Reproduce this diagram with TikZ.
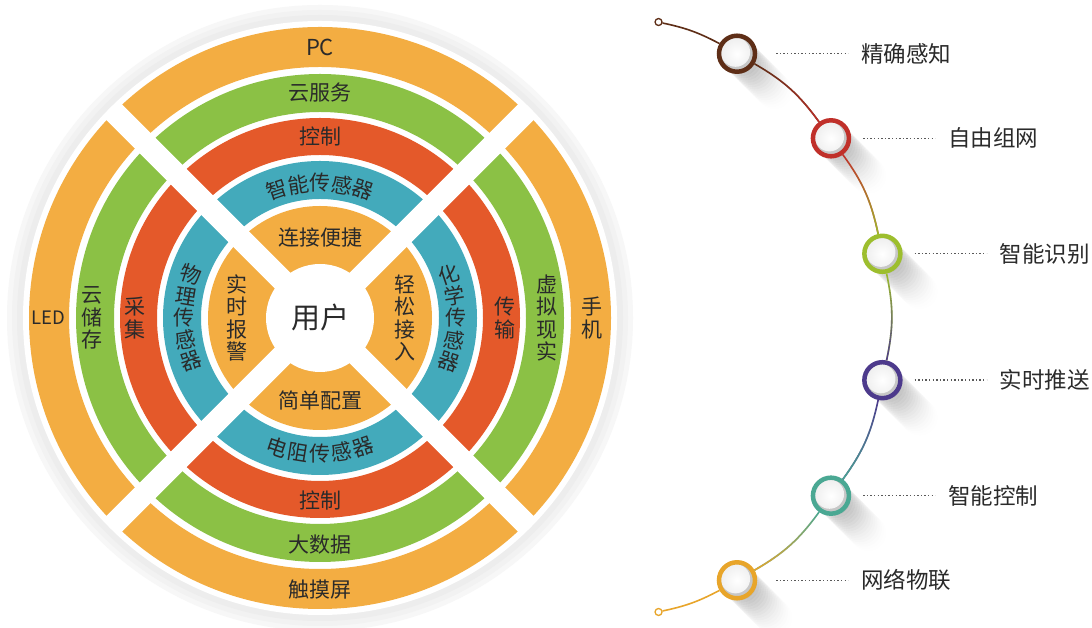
\documentclass[tikz,border=0pt]{standalone}
\usepackage{fontspec}
\usetikzlibrary{positioning,fadings}
\newfontfamily\cjk{Noto Sans CJK SC}
\definecolor{ringorange}{HTML}{F3AD42}
\definecolor{ringgreen}{HTML}{8BC145}
\definecolor{ringred}{HTML}{E4592A}
\definecolor{ringteal}{HTML}{43AABB}
\definecolor{inkgray}{HTML}{2A2A2A}
\definecolor{dotbrown}{HTML}{5E2E17}
\definecolor{dotred}{HTML}{C0302A}
\definecolor{dotlime}{HTML}{9DBE2E}
\definecolor{dotpurple}{HTML}{4D3A8C}
\definecolor{dotteal}{HTML}{4AA893}
\definecolor{dotamber}{HTML}{E8A52A}
\tikzfading[name=fade in down, top color=transparent!100, bottom color=transparent!0]
\tikzset{
  ringtext/.style={font=\cjk\fontsize{21}{22.5}\selectfont, text=inkgray, inner sep=0pt, align=center},
  usertext/.style={font=\cjk\fontsize{29}{32}\selectfont, text=inkgray, inner sep=0pt},
  tagtext/.style={font=\cjk\fontsize{22.5}{24}\selectfont, text=inkgray, inner sep=0pt},
  stage/.style={circle, minimum size=36pt, inner sep=0pt, line width=4.5pt, fill=black!22,
    path picture={\shade[inner color=white, outer color=black!7]
      ([shift={(-1.5pt,1.5pt)}]path picture bounding box.center) circle (14.6pt);}},
  endring/.style={circle, minimum size=7pt, inner sep=0pt, line width=1.3pt, fill=white},
  conn/.style={line width=1.6pt},
  leader/.style={line width=1.4pt, black!65, dash pattern=on 1.4pt off 2.2pt},
}
\begin{document}
\begin{tikzpicture}[x=1pt, y=1pt]
  \useasboundingbox (0,0) rectangle (1092,628);
  \fill[white] (0,0) rectangle (1092,628);
  % rings
  \begin{scope}[shift={(320,310)}]
    \fill[black!3] (0,0) circle (313);
    \fill[black!5] (0,0) circle (308);
    \fill[black!7] (0,0) circle (303);
    \fill[white] (0,0) circle (297);
    \foreach \r/\w/\col in {271/40/ringorange, 225/38/ringgreen, 181.5/37/ringred, 138/38/ringteal} {
      \draw[\col, line width=\w pt] (0,0) circle (\r);
    }
    \fill[ringorange] (0,0) circle (112);
    \foreach \a in {45, 135} {
      \draw[white, line width=22pt] (\a:296) -- (\a+180:296);
    }
    \fill[white] (0,0) circle (54);

    \node[ringtext, font=\cjk\fontsize{22}{24}\selectfont] (pc) at (90:271) {PC};
    \node[ringtext] (cloudsrv) at (90:225) {云服务};
    \node[ringtext] (ctrltop) at (90:181.5) {控制};
    \node[ringtext] (easy) at (90:80) {连接便捷};
    \node[ringtext] (config) at (270:82) {简单配置};
    \node[ringtext] (ctrlbot) at (270:183) {控制};
    \node[ringtext] (bigdata) at (270:227) {大数据};
    \node[ringtext] (touch) at (270:272) {触摸屏};
    \node[ringtext] (phone) at (0:272) {手\\机};
    \node[ringtext] (vr) at (0:227) {虚\\拟\\现\\实};
    \node[ringtext] (trans) at (0:185) {传\\输};
    \node[ringtext] (access) at (0:85) {轻\\松\\接\\入};
    \node[ringtext] (alarm) at (180:83) {实\\时\\报\\警};
    \node[ringtext] (collect) at (180:185) {采\\集};
    \node[ringtext] (storage) at (180:228) {云\\储\\存};
    \node[ringtext, font=\cjk\fontsize{18.5}{20}\selectfont] (led) at (180:272) {LED};
    \node[usertext] (user) at (0,0) {用户};

    \foreach \ch [count=\i] in {智,能,传,感,器} {
      \node[ringtext, rotate={(3-\i)*9.3}] (smart\i) at ({90+(3-\i)*9.3}:135) {\ch};
    }
    \foreach \ch [count=\i] in {电,阻,传,感,器} {
      \node[ringtext, rotate={(\i-3)*9.3}] (resist\i) at ({270+(\i-3)*9.3}:136) {\ch};
    }
    \foreach \ch [count=\i] in {物,理,传,感,器} {
      \node[ringtext, rotate={(\i-3)*9.3}] (phys\i) at ({180-(3-\i)*9.3}:136) {\ch};
    }
    \foreach \ch [count=\i] in {化,学,传,感,器} {
      \node[ringtext, rotate={(3-\i)*9.3}] (chem\i) at ({(3-\i)*9.3}:136) {\ch};
    }
  \end{scope}

  % timeline
  \begin{scope}[shift={(585,311)}]
    \foreach \ang [count=\i] in {60, 36, 12, -12, -36, -60} {
      \coordinate (p\i) at (\ang:304);
      \foreach \k in {1,...,18} {
        \fill[black, opacity={0.03*(19-\k)/18}] ([shift={(\k*2.2,-\k*2.2)}]p\i) circle (18);
      }
    }
    \node[endring, draw=dotbrown] (top) at (76:304) {};
    \node[endring, draw=dotamber] (bot) at (-76:304) {};
    \foreach \col [count=\i] in {dotbrown, dotred, dotlime, dotpurple, dotteal, dotamber} {
      \node[stage, draw=\col] (s\i) at (p\i) {};
    }
  \end{scope}

  \draw[conn, dotbrown] (top) to[bend left=8] (s1);
  \foreach \i/\j/\ca/\cb in {1/2/dotbrown/dotred, 2/3/dotred/dotlime, 3/4/dotlime/dotpurple,
      4/5/dotpurple/dotteal, 5/6/dotteal/dotamber} {
    \draw[conn, \ca] (s\i) to[bend left=12] (s\j);
    \draw[conn, \cb, path fading=fade in down] (s\i) to[bend left=12] (s\j);
  }
  \draw[conn, dotamber] (s6) to[bend left=8] (bot);

  \foreach \i/\off/\txt in {1/19/精确感知, 2/12/自由组网, 3/12/智能识别, 4/12/实时推送, 5/12/智能控制, 6/19/网络物联} {
    \pgfmathsetmacro\gap{\off+85}
    \node[tagtext, right=\gap pt of s\i] (tag\i) {\txt};
    \draw[leader] ([xshift=\off pt]s\i.east) -- ([xshift=-13pt]tag\i.west);
  }
\end{tikzpicture}
\end{document}
